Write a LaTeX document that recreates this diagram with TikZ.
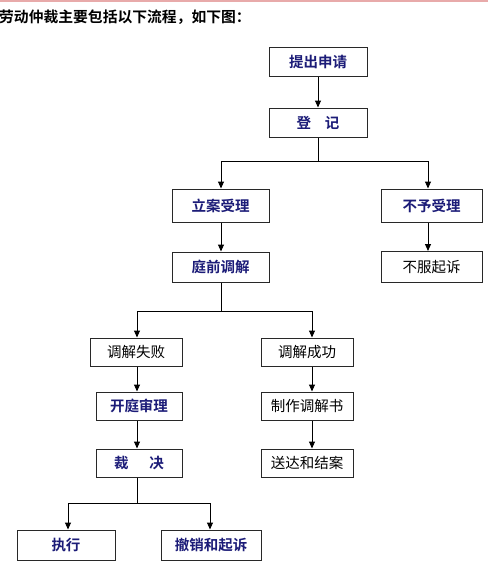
\documentclass[tikz,border=0pt]{standalone}
\usepackage{fontspec}
\newfontfamily\cjk{Noto Sans CJK SC}[BoldFont={Noto Sans CJK SC Bold}]
\usetikzlibrary{arrows.meta}
\definecolor{navy}{RGB}{28,28,120}
\definecolor{pinkline}{RGB}{232,170,170}
\definecolor{boxline}{RGB}{40,40,40}
\tikzset{
  box/.style={draw=boxline, line width=1pt, rectangle, inner sep=0pt, font=\cjk\fontsize{14.5}{16}\selectfont},
  boldbox/.style={box, text=navy, font=\cjk\bfseries\fontsize{14.5}{16}\selectfont},
  plainbox/.style={box, text=black},
  conn/.style={draw=black, line width=1pt},
  arr/.style={conn, -{Triangle[width=6pt,length=7pt]}}
}
\begin{document}
\begin{tikzpicture}[x=1pt,y=-1pt]
\useasboundingbox (0,0) rectangle (488,582);
\fill[white] (0,0) rectangle (488,582);
\draw[pinkline, line width=2pt] (0,1) -- (488,1);
\node[anchor=west, inner sep=0pt, font=\cjk\bfseries\fontsize{14.8}{16}\selectfont] (title) at (-1,17) {劳动仲裁主要包括以下流程，如下图：};

\node[boldbox, minimum width=98, minimum height=29] (tichu) at (318,61.5) {提出申请};
\node[boldbox, minimum width=98, minimum height=29] (dengji) at (318,122.5) {登\hspace{14pt}记};
\node[boldbox, minimum width=97, minimum height=33] (lian) at (220.5,205.5) {立案受理};
\node[boldbox, minimum width=101, minimum height=33] (buyu) at (431.5,205.5) {不予受理};
\node[boldbox, minimum width=97, minimum height=30] (tingqian) at (220.5,267) {庭前调解};
\node[plainbox, minimum width=101, minimum height=31] (bufu) at (431.5,267) {不服起诉};
\node[plainbox, minimum width=92, minimum height=28] (shibai) at (136,352) {调解失败};
\node[plainbox, minimum width=92, minimum height=28] (chenggong) at (307,352) {调解成功};
\node[boldbox, minimum width=86, minimum height=28] (kaiting) at (139,406) {开庭审理};
\node[plainbox, minimum width=92, minimum height=28] (zhizuo) at (307,406) {制作调解书};
\node[boldbox, minimum width=86, minimum height=28] (caijue) at (139,463) {裁\hspace{21pt}决};
\node[plainbox, minimum width=92, minimum height=28] (songda) at (307,463) {送达和结案};
\node[boldbox, minimum width=98, minimum height=30] (zhixing) at (66,545) {执行};
\node[boldbox, minimum width=100, minimum height=30] (chexiao) at (211,545) {撤销和起诉};

\coordinate (j1) at (318,161);
\coordinate (j2) at (221,311);
\coordinate (j3) at (137,503);
\coordinate (cl) at (221,0);
\coordinate (cr) at (428,0);
\coordinate (dl) at (137,0);
\coordinate (dr) at (312,0);
\coordinate (el) at (68,0);
\coordinate (er) at (210,0);

\draw[arr] (tichu) -- (dengji);
\draw[conn] (dengji) -- (j1);
\draw[arr] (j1) -| (lian.north -| cl);
\draw[arr] (j1) -| (buyu.north -| cr);
\draw[arr] (lian.south -| cl) -- (tingqian.north -| cl);
\draw[arr] (buyu.south -| cr) -- (bufu.north -| cr);
\draw[conn] (tingqian.south -| j2) -- (j2);
\draw[arr] (j2) -| (shibai.north -| dl);
\draw[arr] (j2) -| (chenggong.north -| dr);
\draw[arr] (shibai.south -| dl) -- (kaiting.north -| dl);
\draw[arr] (kaiting.south -| dl) -- (caijue.north -| dl);
\draw[arr] (chenggong.south -| dr) -- (zhizuo.north -| dr);
\draw[arr] (zhizuo.south -| dr) -- (songda.north -| dr);
\draw[conn] (caijue.south -| j3) -- (j3);
\draw[arr] (j3) -| (zhixing.north -| el);
\draw[arr] (j3) -| (chexiao.north -| er);
\end{tikzpicture}
\end{document}
